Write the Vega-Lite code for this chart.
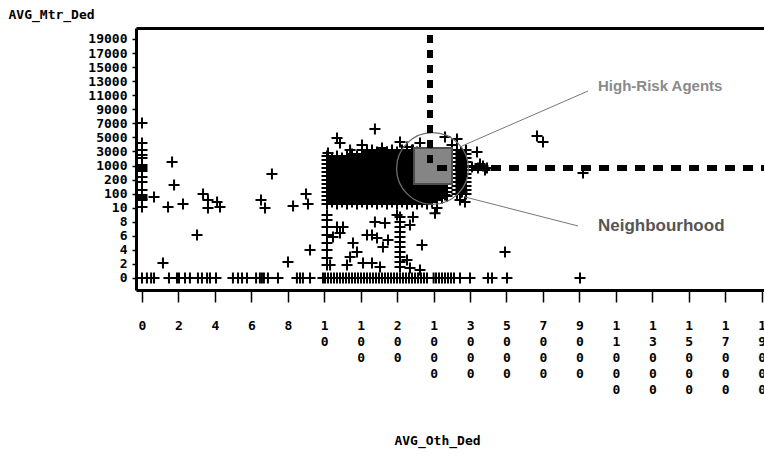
{
"$schema":"https://vega.github.io/schema/vega-lite/v6.json",
"autosize":"none",
"width":628,"height":262,
"padding":{"left":136,"top":28,"right":0,"bottom":164},
"background":"white",
"config":{"view":{"stroke":null}},
"datasets":{"pts":[
{"oth":103.6,"mtr":3205},{"oth":131,"mtr":3205},{"oth":158.4,"mtr":3205},{"oth":185.9,"mtr":3205},{"oth":306,"mtr":3205},{"oth":526,"mtr":3205},
{"oth":117.3,"mtr":2920},{"oth":144.7,"mtr":2920},{"oth":172.2,"mtr":2920},{"oth":199.6,"mtr":2920},{"oth":416,"mtr":2920},{"oth":636,"mtr":2920},
{"oth":78.5,"mtr":2636},{"oth":103.6,"mtr":2636},{"oth":131,"mtr":2636},{"oth":158.4,"mtr":2636},{"oth":185.9,"mtr":2636},{"oth":306,"mtr":2636},{"oth":526,"mtr":2636},
{"oth":16.8,"mtr":2351},{"oth":41.5,"mtr":2351},{"oth":66.2,"mtr":2351},{"oth":90.9,"mtr":2351},{"oth":117.3,"mtr":2351},{"oth":144.7,"mtr":2351},{"oth":172.2,"mtr":2351},{"oth":199.6,"mtr":2351},{"oth":416,"mtr":2351},{"oth":636,"mtr":2351},
{"oth":29.1,"mtr":2067},{"oth":53.8,"mtr":2067},{"oth":78.5,"mtr":2067},{"oth":103.6,"mtr":2067},{"oth":131,"mtr":2067},{"oth":158.4,"mtr":2067},{"oth":185.9,"mtr":2067},{"oth":306,"mtr":2067},{"oth":526,"mtr":2067},
{"oth":16.8,"mtr":1782},{"oth":41.5,"mtr":1782},{"oth":66.2,"mtr":1782},{"oth":90.9,"mtr":1782},{"oth":117.3,"mtr":1782},{"oth":144.7,"mtr":1782},{"oth":172.2,"mtr":1782},{"oth":199.6,"mtr":1782},{"oth":416,"mtr":1782},{"oth":636,"mtr":1782},
{"oth":29.1,"mtr":1498},{"oth":53.8,"mtr":1498},{"oth":78.5,"mtr":1498},{"oth":103.6,"mtr":1498},{"oth":131,"mtr":1498},{"oth":158.4,"mtr":1498},{"oth":185.9,"mtr":1498},{"oth":306,"mtr":1498},{"oth":526,"mtr":1498},
{"oth":16.8,"mtr":1213},{"oth":41.5,"mtr":1213},{"oth":66.2,"mtr":1213},{"oth":90.9,"mtr":1213},{"oth":117.3,"mtr":1213},{"oth":144.7,"mtr":1213},{"oth":172.2,"mtr":1213},{"oth":199.6,"mtr":1213},{"oth":416,"mtr":1213},{"oth":636,"mtr":1213},
{"oth":29.1,"mtr":972},{"oth":53.8,"mtr":972},{"oth":78.5,"mtr":972},{"oth":103.6,"mtr":972},{"oth":131,"mtr":972},{"oth":158.4,"mtr":972},{"oth":185.9,"mtr":972},{"oth":306,"mtr":972},{"oth":526,"mtr":972},
{"oth":16.8,"mtr":858},{"oth":41.5,"mtr":858},{"oth":66.2,"mtr":858},{"oth":90.9,"mtr":858},{"oth":117.3,"mtr":858},{"oth":144.7,"mtr":858},{"oth":172.2,"mtr":858},{"oth":199.6,"mtr":858},{"oth":416,"mtr":858},{"oth":636,"mtr":858},
{"oth":29.1,"mtr":745},{"oth":53.8,"mtr":745},{"oth":78.5,"mtr":745},{"oth":103.6,"mtr":745},{"oth":131,"mtr":745},{"oth":158.4,"mtr":745},{"oth":185.9,"mtr":745},{"oth":306,"mtr":745},{"oth":526,"mtr":745},
{"oth":16.8,"mtr":631},{"oth":41.5,"mtr":631},{"oth":66.2,"mtr":631},{"oth":90.9,"mtr":631},{"oth":117.3,"mtr":631},{"oth":144.7,"mtr":631},{"oth":172.2,"mtr":631},{"oth":199.6,"mtr":631},{"oth":416,"mtr":631},{"oth":636,"mtr":631},
{"oth":29.1,"mtr":518},{"oth":53.8,"mtr":518},{"oth":78.5,"mtr":518},{"oth":103.6,"mtr":518},{"oth":131,"mtr":518},{"oth":158.4,"mtr":518},{"oth":185.9,"mtr":518},{"oth":306,"mtr":518},{"oth":526,"mtr":518},
{"oth":16.8,"mtr":404},{"oth":41.5,"mtr":404},{"oth":66.2,"mtr":404},{"oth":90.9,"mtr":404},{"oth":117.3,"mtr":404},{"oth":144.7,"mtr":404},{"oth":172.2,"mtr":404},{"oth":199.6,"mtr":404},{"oth":416,"mtr":404},{"oth":636,"mtr":404},
{"oth":29.1,"mtr":291},{"oth":53.8,"mtr":291},{"oth":78.5,"mtr":291},{"oth":103.6,"mtr":291},{"oth":131,"mtr":291},{"oth":158.4,"mtr":291},{"oth":185.9,"mtr":291},{"oth":306,"mtr":291},{"oth":526,"mtr":291},
{"oth":16.8,"mtr":197},{"oth":41.5,"mtr":197},{"oth":66.2,"mtr":197},{"oth":90.9,"mtr":197},{"oth":117.3,"mtr":197},{"oth":144.7,"mtr":197},{"oth":172.2,"mtr":197},{"oth":199.6,"mtr":197},{"oth":416,"mtr":197},{"oth":636,"mtr":197},
{"oth":29.1,"mtr":183},{"oth":53.8,"mtr":183},{"oth":78.5,"mtr":183},{"oth":103.6,"mtr":183},{"oth":131,"mtr":183},{"oth":158.4,"mtr":183},{"oth":185.9,"mtr":183},{"oth":306,"mtr":183},{"oth":526,"mtr":183},
{"oth":16.8,"mtr":169},{"oth":41.5,"mtr":169},{"oth":66.2,"mtr":169},{"oth":90.9,"mtr":169},{"oth":117.3,"mtr":169},{"oth":144.7,"mtr":169},{"oth":172.2,"mtr":169},{"oth":199.6,"mtr":169},{"oth":416,"mtr":169},{"oth":636,"mtr":169},
{"oth":29.1,"mtr":154},{"oth":53.8,"mtr":154},{"oth":78.5,"mtr":154},{"oth":103.6,"mtr":154},{"oth":131,"mtr":154},{"oth":158.4,"mtr":154},{"oth":185.9,"mtr":154},{"oth":306,"mtr":154},{"oth":526,"mtr":154},{"oth":745,"mtr":154},{"oth":965,"mtr":154},{"oth":1461,"mtr":154},
{"oth":16.8,"mtr":140},{"oth":41.5,"mtr":140},{"oth":66.2,"mtr":140},{"oth":90.9,"mtr":140},{"oth":117.3,"mtr":140},{"oth":144.7,"mtr":140},{"oth":172.2,"mtr":140},{"oth":199.6,"mtr":140},{"oth":416,"mtr":140},{"oth":636,"mtr":140},{"oth":855,"mtr":140},{"oth":1187,"mtr":140},{"oth":1735,"mtr":140},
{"oth":29.1,"mtr":126},{"oth":53.8,"mtr":126},{"oth":78.5,"mtr":126},{"oth":103.6,"mtr":126},{"oth":131,"mtr":126},{"oth":158.4,"mtr":126},{"oth":185.9,"mtr":126},{"oth":306,"mtr":126},{"oth":526,"mtr":126},{"oth":745,"mtr":126},{"oth":965,"mtr":126},{"oth":1461,"mtr":126},
{"oth":16.8,"mtr":111},{"oth":41.5,"mtr":111},{"oth":66.2,"mtr":111},{"oth":90.9,"mtr":111},{"oth":117.3,"mtr":111},{"oth":144.7,"mtr":111},{"oth":172.2,"mtr":111},{"oth":199.6,"mtr":111},{"oth":416,"mtr":111},{"oth":636,"mtr":111},{"oth":855,"mtr":111},{"oth":1187,"mtr":111},{"oth":1735,"mtr":111},
{"oth":29.1,"mtr":97},{"oth":53.8,"mtr":97},{"oth":78.5,"mtr":97},{"oth":103.6,"mtr":97},{"oth":131,"mtr":97},{"oth":158.4,"mtr":97},{"oth":185.9,"mtr":97},{"oth":306,"mtr":97},{"oth":526,"mtr":97},{"oth":745,"mtr":97},{"oth":965,"mtr":97},{"oth":1461,"mtr":97},
{"oth":16.8,"mtr":85},{"oth":41.5,"mtr":85},{"oth":66.2,"mtr":85},{"oth":90.9,"mtr":85},{"oth":117.3,"mtr":85},{"oth":144.7,"mtr":85},{"oth":172.2,"mtr":85},{"oth":199.6,"mtr":85},{"oth":416,"mtr":85},{"oth":636,"mtr":85},{"oth":855,"mtr":85},{"oth":1187,"mtr":85},{"oth":1735,"mtr":85},
{"oth":29.1,"mtr":72},{"oth":53.8,"mtr":72},{"oth":78.5,"mtr":72},{"oth":103.6,"mtr":72},{"oth":131,"mtr":72},{"oth":158.4,"mtr":72},{"oth":185.9,"mtr":72},{"oth":306,"mtr":72},{"oth":526,"mtr":72},{"oth":745,"mtr":72},{"oth":965,"mtr":72},{"oth":1461,"mtr":72},
{"oth":16.8,"mtr":59},{"oth":41.5,"mtr":59},{"oth":66.2,"mtr":59},{"oth":90.9,"mtr":59},{"oth":117.3,"mtr":59},{"oth":144.7,"mtr":59},{"oth":172.2,"mtr":59},{"oth":199.6,"mtr":59},{"oth":416,"mtr":59},{"oth":636,"mtr":59},{"oth":855,"mtr":59},{"oth":1187,"mtr":59},
{"oth":29.1,"mtr":46},{"oth":53.8,"mtr":46},{"oth":78.5,"mtr":46},{"oth":103.6,"mtr":46},{"oth":131,"mtr":46},{"oth":158.4,"mtr":46},{"oth":185.9,"mtr":46},{"oth":306,"mtr":46},{"oth":526,"mtr":46},{"oth":745,"mtr":46},{"oth":965,"mtr":46},
{"oth":16.8,"mtr":34},{"oth":41.5,"mtr":34},{"oth":66.2,"mtr":34},{"oth":90.9,"mtr":34},{"oth":117.3,"mtr":34},{"oth":144.7,"mtr":34},{"oth":172.2,"mtr":34},{"oth":199.6,"mtr":34},{"oth":416,"mtr":34},{"oth":636,"mtr":34},{"oth":855,"mtr":34},
{"oth":2284,"mtr":3205},{"oth":2778,"mtr":3205},{"oth":2284,"mtr":2636},{"oth":2778,"mtr":2636},{"oth":2284,"mtr":2067},{"oth":2778,"mtr":2067},{"oth":2284,"mtr":1498},{"oth":2778,"mtr":1498},{"oth":2284,"mtr":972},{"oth":2778,"mtr":972},{"oth":2284,"mtr":745},{"oth":2778,"mtr":745},{"oth":2284,"mtr":518},{"oth":2778,"mtr":518},{"oth":2284,"mtr":291},{"oth":2778,"mtr":291},{"oth":2284,"mtr":183},{"oth":2778,"mtr":183},{"oth":2284,"mtr":154},{"oth":2778,"mtr":154},{"oth":2284,"mtr":126},{"oth":2778,"mtr":126},{"oth":2284,"mtr":97},{"oth":2778,"mtr":97},
{"oth":2503,"mtr":2920},{"oth":2503,"mtr":2351},{"oth":2503,"mtr":1782},{"oth":2503,"mtr":1213},{"oth":2503,"mtr":858},{"oth":2503,"mtr":631},{"oth":2503,"mtr":404},{"oth":2503,"mtr":197},{"oth":2503,"mtr":169},{"oth":2503,"mtr":140},{"oth":2503,"mtr":111},
{"oth":3107,"mtr":915},{"oth":3436,"mtr":858},{"oth":3710,"mtr":972},{"oth":3930,"mtr":858},{"oth":3820,"mtr":745},{"oth":3546,"mtr":1213},
{"oth":0,"mtr":7045},{"oth":0,"mtr":4200},{"oth":0,"mtr":3205},{"oth":0,"mtr":2494},{"oth":0,"mtr":2067},{"oth":0,"mtr":1071},{"oth":0,"mtr":915},{"oth":0,"mtr":801},{"oth":0,"mtr":688},{"oth":0,"mtr":348},{"oth":0,"mtr":183},{"oth":0,"mtr":126},{"oth":0,"mtr":91},{"oth":0,"mtr":78},{"oth":0,"mtr":65.5},{"oth":0,"mtr":59},{"oth":0,"mtr":14.5},
{"oth":0,"mtr":0},{"oth":0.27,"mtr":0},{"oth":0.5,"mtr":0},{"oth":0.66,"mtr":0},{"oth":1.48,"mtr":0},{"oth":1.92,"mtr":0},{"oth":2.03,"mtr":0},{"oth":2.36,"mtr":0},{"oth":2.63,"mtr":0},{"oth":3.07,"mtr":0},{"oth":3.29,"mtr":0},{"oth":3.57,"mtr":0},{"oth":3.73,"mtr":0},{"oth":4.06,"mtr":0},{"oth":4.99,"mtr":0},{"oth":5.27,"mtr":0},{"oth":5.49,"mtr":0},{"oth":5.76,"mtr":0},{"oth":6.26,"mtr":0},{"oth":6.47,"mtr":0},{"oth":6.58,"mtr":0},{"oth":6.69,"mtr":0},{"oth":6.91,"mtr":0},{"oth":7.46,"mtr":0},{"oth":8.5,"mtr":0},{"oth":8.67,"mtr":0},{"oth":8.83,"mtr":0},{"oth":9.22,"mtr":0},{"oth":9.93,"mtr":0},
{"oth":11.9,"mtr":0},{"oth":19.3,"mtr":0},{"oth":26.7,"mtr":0},{"oth":34.1,"mtr":0},{"oth":41.5,"mtr":0},{"oth":48.9,"mtr":0},{"oth":56.3,"mtr":0},{"oth":63.7,"mtr":0},{"oth":71.1,"mtr":0},{"oth":78.5,"mtr":0},{"oth":85.9,"mtr":0},{"oth":93.3,"mtr":0},{"oth":100.8,"mtr":0},{"oth":109.1,"mtr":0},{"oth":117.3,"mtr":0},{"oth":125.5,"mtr":0},{"oth":133.7,"mtr":0},{"oth":142,"mtr":0},{"oth":150.2,"mtr":0},{"oth":158.4,"mtr":0},{"oth":166.6,"mtr":0},{"oth":174.9,"mtr":0},{"oth":183.2,"mtr":0},{"oth":191.4,"mtr":0},{"oth":199.6,"mtr":0},{"oth":262.6,"mtr":0},{"oth":328,"mtr":0},{"oth":394,"mtr":0},{"oth":460,"mtr":0},{"oth":526,"mtr":0},{"oth":592,"mtr":0},{"oth":658,"mtr":0},{"oth":723,"mtr":0},{"oth":789,"mtr":0},{"oth":855,"mtr":0},{"oth":1000,"mtr":0},{"oth":1132,"mtr":0},{"oth":1296,"mtr":0},{"oth":1461,"mtr":0},{"oth":1626,"mtr":0},{"oth":1790,"mtr":0},{"oth":1955,"mtr":0},{"oth":2119,"mtr":0},{"oth":2449,"mtr":0},{"oth":2997,"mtr":0},{"oth":3985,"mtr":0},{"oth":4204,"mtr":0},{"oth":5027,"mtr":0},{"oth":9033,"mtr":0},
{"oth":0.66,"mtr":78},{"oth":1.43,"mtr":14.5},{"oth":1.65,"mtr":1498},{"oth":1.76,"mtr":161},{"oth":2.25,"mtr":34},{"oth":1.15,"mtr":2.13},{"oth":3.02,"mtr":6.12},{"oth":3.35,"mtr":97},{"oth":3.62,"mtr":59},{"oth":3.62,"mtr":9.96},{"oth":4.12,"mtr":46},{"oth":4.28,"mtr":14.5},{"oth":6.53,"mtr":59},{"oth":6.75,"mtr":9.96},{"oth":7.13,"mtr":518},{"oth":8.01,"mtr":2.28},{"oth":8.29,"mtr":21},{"oth":9.0,"mtr":97},{"oth":9.11,"mtr":34},{"oth":9.22,"mtr":3.98},
{"oth":41.5,"mtr":7.25},{"oth":56.3,"mtr":7.25},{"oth":48.9,"mtr":6.4},{"oth":31.5,"mtr":5.83},{"oth":81,"mtr":4.98},{"oth":90.9,"mtr":3.7},{"oth":117.3,"mtr":6.12},{"oth":131,"mtr":6.12},{"oth":144.7,"mtr":5.69},{"oth":139,"mtr":7.97},{"oth":166.6,"mtr":7.82},{"oth":174.9,"mtr":5.41},{"oth":161,"mtr":4.41},{"oth":199.6,"mtr":8.96},{"oth":416,"mtr":2.56},{"oth":481,"mtr":7.54},{"oth":745,"mtr":4.69},{"oth":548,"mtr":8.68},{"oth":73.8,"mtr":2.99},{"oth":66.2,"mtr":1.85},{"oth":106.4,"mtr":2.13},{"oth":131,"mtr":2.13},{"oth":153,"mtr":1.56},{"oth":24.4,"mtr":1.85},{"oth":481,"mtr":1.42},{"oth":701,"mtr":1.14},{"oth":4918,"mtr":3.7},
{"oth":262.6,"mtr":8.68},{"oth":262.6,"mtr":7.97},{"oth":262.6,"mtr":7.25},{"oth":262.6,"mtr":6.54},{"oth":262.6,"mtr":5.83},{"oth":262.6,"mtr":5.12},{"oth":262.6,"mtr":4.41},{"oth":262.6,"mtr":3.7},{"oth":262.6,"mtr":2.99},{"oth":262.6,"mtr":2.28},{"oth":262.6,"mtr":1.56},
{"oth":16.8,"mtr":8.96},{"oth":16.8,"mtr":8.25},{"oth":16.8,"mtr":7.25},{"oth":16.8,"mtr":6.12},{"oth":16.8,"mtr":4.98},{"oth":16.8,"mtr":3.98},{"oth":16.8,"mtr":2.84},{"oth":16.8,"mtr":1.85},
{"oth":19.3,"mtr":2778},{"oth":48.9,"mtr":4200},{"oth":41.5,"mtr":4912},{"oth":73.8,"mtr":3205},{"oth":103.6,"mtr":3916},{"oth":117.3,"mtr":3205},{"oth":158.4,"mtr":3489},{"oth":172.2,"mtr":2920},{"oth":262.6,"mtr":4343},{"oth":416,"mtr":3632},{"oth":548,"mtr":3205},{"oth":701,"mtr":4200},{"oth":1626,"mtr":5054},{"oth":2284,"mtr":4770},{"oth":2010,"mtr":3916},{"oth":3381,"mtr":2920},{"oth":139,"mtr":6192},
{"oth":6674,"mtr":5200},{"oth":7003,"mtr":4340},{"oth":9198,"mtr":575},
{"oth":2558,"mtr":111},{"oth":2723,"mtr":46},{"oth":2448,"mtr":59},{"oth":1187,"mtr":9.96},{"oth":1077,"mtr":9.2},{"oth":1626,"mtr":91}
]},
"layer":[
{"layer":[
 {"data":{"name":"pts"},
  "mark":{"type":"point","shape":"M-1,0H1M0,-1V1","size":121,"filled":false,"color":"black","stroke":"black","strokeWidth":2,"opacity":1},
  "encoding":{
   "x":{"field":"oth","type":"quantitative","title":"AVG_Oth_Ded",
    "scale":{"domain":[-0.329,10,100,200,1000,19129],"range":[0,188.25,224.7,261.15,297.6,628],"zero":false,"nice":false},
    "axis":{"values":[0,2,4,6,8,10,100,200,1000,3000,5000,7000,9000,11000,13000,15000,17000,19000],"tickCount":100,
     "labelExpr":"split(format(datum.value,'d'),'')",
     "labelFont":"DejaVu Sans Mono","labelFontWeight":"bold","labelFontSize":13,"labelColor":"black",
     "labelLineHeight":16,"labelBaseline":"top","labelAlign":"center","labelPadding":17,"labelOverlap":false,"labelFlush":false,"labelBound":false,
     "tickSize":12,"tickColor":"black","tickWidth":1.5,"domainColor":"black","domainWidth":3,"grid":false,
     "titleFont":"DejaVu Sans Mono","titleFontWeight":"bold","titleFontSize":13,"titleColor":"black",
     "titleX":301,"titleY":150,"titleBaseline":"middle","titleAlign":"center"}},
   "y":{"field":"mtr","type":"quantitative","title":"AVG_Mtr_Ded",
    "scale":{"domain":[-1.707,10,100,200,1000,20565],"range":[262,179.7,165.6,151.6,137.5,0],"zero":false,"nice":false},
    "axis":{"values":[0,2,4,6,8,10,100,200,1000,3000,5000,7000,9000,11000,13000,15000,17000,19000],"tickCount":100,
     "format":"d",
     "labelFont":"DejaVu Sans Mono","labelFontWeight":"bold","labelFontSize":13,"labelColor":"black",
     "labelAlign":"right","labelBaseline":"middle","labelPadding":5,"labelOverlap":false,"labelFlush":false,"labelBound":false,
     "tickSize":4,"tickColor":"black","tickWidth":1.5,"domainColor":"black","domainWidth":3,"grid":false,
     "titleFont":"DejaVu Sans Mono","titleFontWeight":"bold","titleFontSize":13,"titleColor":"black",
     "titleAngle":0,"titleX":-128,"titleY":-14,"titleAlign":"left","titleBaseline":"middle"}}
  }},
 {"data":{"values":[{"oth":570,"oth2":2010,"mtr":168.6,"mtr2":3489}]},
  "mark":{"type":"rect","fill":"#858585","stroke":"#4d4d4d","strokeWidth":2},
  "encoding":{"x":{"field":"oth","type":"quantitative","title":"AVG_Oth_Ded","scale":{"domain":[-0.329,10,100,200,1000,19129],"range":[0,188.25,224.7,261.15,297.6,628],"zero":false,"nice":false}},"x2":{"field":"oth2"},
   "y":{"field":"mtr","type":"quantitative","title":"AVG_Mtr_Ded","scale":{"domain":[-1.707,10,100,200,1000,20565],"range":[262,179.7,165.6,151.6,137.5,0],"zero":false,"nice":false}},"y2":{"field":"mtr2"}}},
 {"data":{"values":[{"oth":976,"mtr":830}]},
  "mark":{"type":"point","shape":"circle","size":5153,"filled":false,"stroke":"#6e6e6e","strokeWidth":1.3,"opacity":1},
  "encoding":{"x":{"field":"oth","type":"quantitative","title":"AVG_Oth_Ded","scale":{"domain":[-0.329,10,100,200,1000,19129],"range":[0,188.25,224.7,261.15,297.6,628],"zero":false,"nice":false}},"y":{"field":"mtr","type":"quantitative","title":"AVG_Mtr_Ded","scale":{"domain":[-1.707,10,100,200,1000,20565],"range":[262,179.7,165.6,151.6,137.5,0],"zero":false,"nice":false}}}},
 {"data":{"values":[{"oth":1187,"oth2":19129,"mtr":858}]},
  "mark":{"type":"rule","color":"black","strokeWidth":6,"strokeDash":[10,8]},
  "encoding":{"x":{"field":"oth","type":"quantitative","title":"AVG_Oth_Ded","scale":{"domain":[-0.329,10,100,200,1000,19129],"range":[0,188.25,224.7,261.15,297.6,628],"zero":false,"nice":false}},"x2":{"field":"oth2"},"y":{"field":"mtr","type":"quantitative","title":"AVG_Mtr_Ded","scale":{"domain":[-1.707,10,100,200,1000,20565],"range":[262,179.7,165.6,151.6,137.5,0],"zero":false,"nice":false}}}},
 {"data":{"values":[{"oth":2558,"mtr":3774,"oth2":9472,"mtr2":11598},{"oth":2723,"mtr":78.3,"oth2":8923,"mtr2":7.4}]},
  "mark":{"type":"rule","color":"#777777","strokeWidth":1},
  "encoding":{"x":{"field":"oth","type":"quantitative","title":"AVG_Oth_Ded","scale":{"domain":[-0.329,10,100,200,1000,19129],"range":[0,188.25,224.7,261.15,297.6,628],"zero":false,"nice":false}},"x2":{"field":"oth2"},"y":{"field":"mtr","type":"quantitative","title":"AVG_Mtr_Ded","scale":{"domain":[-1.707,10,100,200,1000,20565],"range":[262,179.7,165.6,151.6,137.5,0],"zero":false,"nice":false}},"y2":{"field":"mtr2"}}},
 {"data":{"values":[{"oth":10020,"mtr":12309,"label":"High-Risk Agents"}]},
  "mark":{"type":"text","align":"left","baseline":"middle","font":"Liberation Sans","fontWeight":"bold","fontSize":15,"color":"#8a8a8a"},
  "encoding":{"x":{"field":"oth","type":"quantitative","title":"AVG_Oth_Ded","scale":{"domain":[-0.329,10,100,200,1000,19129],"range":[0,188.25,224.7,261.15,297.6,628],"zero":false,"nice":false}},"y":{"field":"mtr","type":"quantitative","title":"AVG_Mtr_Ded","scale":{"domain":[-1.707,10,100,200,1000,20565],"range":[262,179.7,165.6,151.6,137.5,0],"zero":false,"nice":false}},"text":{"field":"label"}}},
 {"data":{"values":[{"oth":10020,"mtr":7.4,"label":"Neighbourhood"}]},
  "mark":{"type":"text","align":"left","baseline":"middle","font":"Liberation Sans","fontWeight":"bold","fontSize":17,"color":"#555555"},
  "encoding":{"x":{"field":"oth","type":"quantitative","title":"AVG_Oth_Ded","scale":{"domain":[-0.329,10,100,200,1000,19129],"range":[0,188.25,224.7,261.15,297.6,628],"zero":false,"nice":false}},"y":{"field":"mtr","type":"quantitative","title":"AVG_Mtr_Ded","scale":{"domain":[-1.707,10,100,200,1000,20565],"range":[262,179.7,165.6,151.6,137.5,0],"zero":false,"nice":false}},"text":{"field":"label"}}}
]},
{"data":{"values":[{"oth":921,"mtr":1356,"mtr2":20565}]},
 "mark":{"type":"rule","color":"black","strokeWidth":6,"strokeDash":[8,7]},
 "encoding":{"x":{"field":"oth","type":"quantitative","title":"AVG_Oth_Ded","scale":{"domain":[-0.329,10,100,200,1000,19129],"range":[0,188.25,224.7,261.15,297.6,628],"zero":false,"nice":false},
   "axis":{"orient":"top","ticks":false,"labels":false,"domainColor":"black","domainWidth":3,"grid":false,"title":null}},
  "y":{"field":"mtr","type":"quantitative","title":"AVG_Mtr_Ded","scale":{"domain":[-1.707,10,100,200,1000,20565],"range":[262,179.7,165.6,151.6,137.5,0],"zero":false,"nice":false}},"y2":{"field":"mtr2"}}}
],
"resolve":{"axis":{"x":"independent"}}
}
